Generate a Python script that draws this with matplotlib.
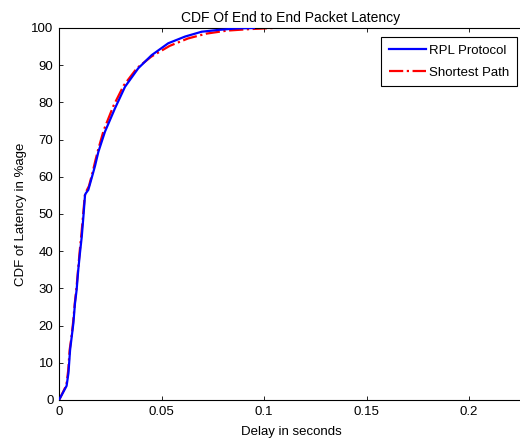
import matplotlib
matplotlib.use("Agg")
from matplotlib import pyplot as plt
from matplotlib.ticker import FormatStrFormatter, MultipleLocator

# CDF curves (delay in s, CDF in %)
rpl_delay = [0, 0.0005, 0.0037, 0.0046, 0.0054, 0.0062, 0.0070, 0.0078, 0.0086, 0.0094,
             0.0102, 0.0111, 0.0119, 0.0127, 0.0130, 0.0143, 0.0160, 0.0176, 0.0192, 0.0224,
             0.0273, 0.0322, 0.0387, 0.0452, 0.0533, 0.0615, 0.0696, 0.0780, 0.0870, 0.0950]
rpl_cdf = [0, 0.5, 3.8, 7.2, 13.4, 17, 20.6, 26, 29.6, 35,
           39.4, 43.9, 49.3, 55.1, 55.5, 56.5, 59.8, 63.0, 66.7, 72.1,
           78.4, 84.2, 89.2, 92.7, 95.9, 97.7, 99.0, 99.5, 99.9, 100]

sp_delay = [0, 0.0005, 0.0036, 0.0045, 0.0052, 0.0061, 0.0069, 0.0077, 0.0085, 0.0093,
            0.0101, 0.0110, 0.0118, 0.0126, 0.0132, 0.0146, 0.0163, 0.0178, 0.0192, 0.0218,
            0.0265, 0.0315, 0.0380, 0.0450, 0.0540, 0.0630, 0.0720, 0.0820, 0.0930, 0.1050]
sp_cdf = [0, 0.5, 4, 8, 13.5, 17, 21, 26, 30, 35,
          40, 45, 50, 55, 56, 57.5, 61, 64.5, 67.5, 72.5,
          79, 84.5, 89.2, 92.3, 95.2, 97.2, 98.5, 99.3, 99.7, 100]

plt.rcParams['font.family'] = ['Liberation Sans', 'DejaVu Sans']
plt.rcParams['font.size'] = 9.5

fig = plt.figure(figsize=(5.2, 4.42), dpi=100)
ax = fig.add_axes([59 / 520, 1 - 400 / 442, 464 / 520, 372 / 442])

ax.plot(rpl_delay, rpl_cdf, color=(0, 0, 1), lw=1.6, label='RPL Protocol', zorder=3)
ax.plot(sp_delay, sp_cdf, color=(1, 0, 0), lw=1.6, ls='-.', label='Shortest Path', zorder=2)

ax.set_xlim(0, 464 / 2050)
ax.set_ylim(0, 100)
ax.xaxis.set_major_locator(MultipleLocator(0.05))
ax.yaxis.set_major_locator(MultipleLocator(10))
ax.xaxis.set_major_formatter(FormatStrFormatter('%g'))
ax.tick_params(direction='in', top=True, right=False, length=3, width=0.6, pad=4)
for s in ax.spines.values():
  s.set_linewidth(0.8)

ax.set_title('CDF Of End to End Packet Latency', fontsize=10, pad=4)
ax.set_xlabel('Delay in seconds', labelpad=6)
ax.set_ylabel('CDF of Latency in %age', labelpad=3)

leg = ax.legend(loc='upper right', bbox_to_anchor=(458 / 464, 0.975), fancybox=False,
                framealpha=1, edgecolor='black', handlelength=2.8, borderpad=0.55,
                labelspacing=0.75, handletextpad=0.3, borderaxespad=0)
leg.get_frame().set_linewidth(0.8)

fig.savefig('out.png', dpi=100)
